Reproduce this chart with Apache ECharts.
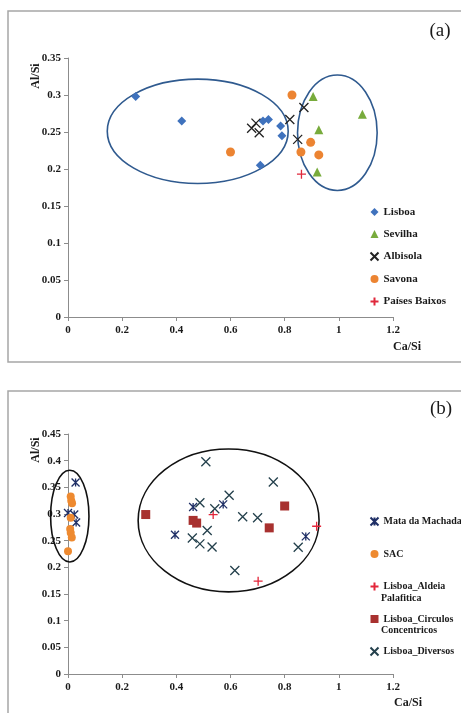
<!DOCTYPE html>
<html>
<head>
<meta charset="utf-8">
<script src="https://cdn.jsdelivr.net/npm/echarts@6/dist/echarts.min.js"></script>
<style>
html,body{margin:0;padding:0;background:#fff;}
#chart{width:461px;height:713px;}
</style>
</head>
<body>
<div id="chart"></div>
<script>
// ---------- Panel (a) data ----------
var lisboaA = [[0.25,0.298],[0.42,0.265],[0.72,0.265],[0.74,0.267],[0.785,0.258],[0.79,0.245],[0.71,0.205]];
var sevilhaA = [[0.905,0.298],[1.087,0.274],[0.926,0.253],[0.92,0.196]];
var albisolaA = [[0.678,0.255],[0.694,0.262],[0.706,0.249],[0.819,0.267],[0.871,0.283],[0.848,0.240]];
var savonaA = [[0.827,0.300],[0.600,0.223],[0.896,0.236],[0.86,0.223],[0.926,0.219]];
var paisesA = [[0.862,0.193]];
// ellipse annotations: [centerX, centerY, radiusX, radiusY] in data units
var ellipsesA = [[0.479,0.251,0.334,0.0705],[0.9945,0.249,0.147,0.078]];

// ---------- Panel (b) data ----------
var mataB = [[0.028,0.359],[0.0,0.302],[0.023,0.299],[0.03,0.284],[0.395,0.261],[0.462,0.313],[0.573,0.318],[0.878,0.258]];
var sacB = [[0.01,0.333],[0.012,0.325],[0.015,0.320],[0.01,0.293],[0.008,0.272],[0.01,0.265],[0.014,0.256],[0.0,0.230]];
var aldeiaB = [[0.536,0.299],[0.918,0.277],[0.702,0.174]];
var circulosB = [[0.287,0.299],[0.462,0.288],[0.475,0.283],[0.743,0.274],[0.80,0.315]];
var diversosB = [[0.509,0.398],[0.758,0.360],[0.487,0.321],[0.542,0.310],[0.595,0.335],[0.645,0.295],[0.70,0.293],[0.459,0.255],[0.487,0.244],[0.514,0.269],[0.532,0.238],[0.616,0.194],[0.85,0.2375]];
var ellipsesB = [[0.0066,0.296,0.0708,0.086],[0.593,0.288,0.334,0.134]];

var namesA = ['Lisboa','Sevilha','Albisola','Savona','Países Baixos'];
var namesB = ['Mata da Machada','SAC','Lisboa_Aldeia Palafitica','Lisboa_Circulos Concentricos','Lisboa_Diversos'];
var legendFirstLine = {'Lisboa_Aldeia Palafitica':'Lisboa_Aldeia','Lisboa_Circulos Concentricos':'Lisboa_Circulos'};

var FONT = '"Liberation Serif", "Times New Roman", serif';
var TXT = '#1a1a1a';
var AXC = '#8c8c8c';

var X_PATH = 'path://M0,0L10,10M10,0L0,10';
var PLUS_PATH = 'path://M5,0L5,10M0,5L10,5';
var STAR_PATH = 'path://M0,0L10,10M10,0L0,10M5,0L5,10';

function xAxisCfg(gi){
  return {gridIndex:gi,type:'value',min:0,max:1.2,interval:0.2,
    axisLine:{lineStyle:{color:AXC,width:1}},
    axisTick:{show:true,length:4,lineStyle:{color:AXC}},
    splitLine:{show:false},
    axisLabel:{margin:8,fontFamily:FONT,fontWeight:'bold',fontSize:11,color:TXT}};
}
function yAxisCfg(gi,max){
  return {gridIndex:gi,type:'value',min:0,max:max,interval:0.05,
    axisLine:{show:true,lineStyle:{color:AXC,width:1}},
    axisTick:{show:true,length:4,lineStyle:{color:AXC}},
    splitLine:{show:false},
    axisLabel:{margin:7,fontFamily:FONT,fontWeight:'bold',fontSize:11,color:TXT}};
}
function ellipseSeries(gi,data,color){
  return {type:'custom',xAxisIndex:gi,yAxisIndex:gi,data:data,silent:true,clip:false,z:1,
    encode:{x:0,y:1},
    renderItem:function(params,api){
      var c = api.coord([api.value(0),api.value(1)]);
      var s = api.size([api.value(2),api.value(3)]);
      return {type:'ellipse',shape:{cx:c[0],cy:c[1],rx:s[0],ry:s[1]},
        style:{fill:'none',stroke:color,lineWidth:1.6}};
    }};
}
function scat(gi,name,data,symbol,size,color,stroke){
  var s = {type:'scatter',name:name,xAxisIndex:gi,yAxisIndex:gi,data:data,symbol:symbol,symbolSize:size,z:3};
  if(stroke){
    s.itemStyle = {color:'none',borderColor:color,borderWidth:1.3,opacity:1};
  } else {
    s.itemStyle = {color:color,opacity:1};
  }
  return s;
}

var chart = echarts.init(document.getElementById('chart'),null,{renderer:'canvas'});
var option = {
  animation:false,
  backgroundColor:'#fff',
  grid:[
    {left:68,right:68,top:58,height:259},
    {left:68,right:68,top:434,height:240}
  ],
  xAxis:[xAxisCfg(0),xAxisCfg(1)],
  yAxis:[yAxisCfg(0,0.35),yAxisCfg(1,0.45)],
  legend:[
    {data:namesA,orient:'vertical',left:368,top:206,padding:0,itemWidth:8,itemHeight:8,itemGap:10,
      textStyle:{fontFamily:FONT,fontWeight:'bold',fontSize:11,color:TXT,lineHeight:12},selectedMode:false},
    {data:namesB,orient:'vertical',left:368,top:515,padding:0,itemWidth:8,itemHeight:8,itemGap:20,
      formatter:function(n){return legendFirstLine[n]||n;},
      textStyle:{fontFamily:FONT,fontWeight:'bold',fontSize:10,color:TXT,lineHeight:12},selectedMode:false}
  ],
  graphic:[
    {type:'rect',shape:{x:8,y:11,width:470,height:351},style:{fill:'none',stroke:'#a6a6a6',lineWidth:1.5},z:-1},
    {type:'rect',shape:{x:8,y:391,width:470,height:340},style:{fill:'none',stroke:'#a6a6a6',lineWidth:1.5},z:-1},
    {type:'text',x:440,y:31,style:{text:'(a)',fontFamily:FONT,fontSize:19,fill:TXT,align:'center',verticalAlign:'middle'}},
    {type:'text',x:441,y:409,style:{text:'(b)',fontFamily:FONT,fontSize:19,fill:TXT,align:'center',verticalAlign:'middle'}},
    {type:'text',x:407,y:347,style:{text:'Ca/Si',fontFamily:FONT,fontWeight:'bold',fontSize:12,fill:TXT,align:'center',verticalAlign:'middle'}},
    {type:'text',x:408,y:703,style:{text:'Ca/Si',fontFamily:FONT,fontWeight:'bold',fontSize:12,fill:TXT,align:'center',verticalAlign:'middle'}},
    {type:'text',x:36,y:76,rotation:Math.PI/2,style:{text:'Al/Si',fontFamily:FONT,fontWeight:'bold',fontSize:12,fill:TXT,align:'center',verticalAlign:'middle'}},
    {type:'text',x:36,y:450,rotation:Math.PI/2,style:{text:'Al/Si',fontFamily:FONT,fontWeight:'bold',fontSize:12,fill:TXT,align:'center',verticalAlign:'middle'}},
    {type:'text',x:381,y:598,style:{text:'Palafitica',fontFamily:FONT,fontWeight:'bold',fontSize:10,fill:TXT,align:'left',verticalAlign:'middle'}},
    {type:'text',x:381,y:630,style:{text:'Concentricos',fontFamily:FONT,fontWeight:'bold',fontSize:10,fill:TXT,align:'left',verticalAlign:'middle'}}
  ],
  series:[
    ellipseSeries(0,ellipsesA,'#2f5a8f'),
    scat(0,'Lisboa',lisboaA,'diamond',9,'#3f72bd'),
    scat(0,'Sevilha',sevilhaA,'triangle',9,'#78ab3c'),
    scat(0,'Albisola',albisolaA,X_PATH,9,'#222222',true),
    scat(0,'Savona',savonaA,'circle',9,'#ec8432'),
    scat(0,'Países Baixos',paisesA,PLUS_PATH,9,'#e0283c',true),
    ellipseSeries(1,ellipsesB,'#111111'),
    scat(1,'Mata da Machada',mataB,STAR_PATH,8,'#1f2f66',true),
    scat(1,'SAC',sacB,'circle',8,'#ee8a30'),
    scat(1,'Lisboa_Aldeia Palafitica',aldeiaB,PLUS_PATH,9,'#e3263a',true),
    scat(1,'Lisboa_Circulos Concentricos',circulosB,'rect',9,'#a8312f'),
    scat(1,'Lisboa_Diversos',diversosB,X_PATH,9,'#24404c',true)
  ]
};
chart.setOption(option);
</script>
</body>
</html>
